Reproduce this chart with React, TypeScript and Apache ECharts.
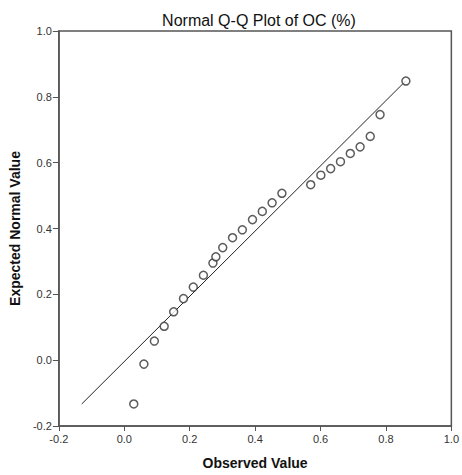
import React, { useEffect, useRef } from "react";
import * as echarts from "echarts";

const observed = [0.029, 0.06, 0.092, 0.122, 0.151, 0.181, 0.211, 0.242, 0.271, 0.28, 0.301, 0.331, 0.361, 0.392, 0.422, 0.452, 0.482, 0.57, 0.601, 0.631, 0.661, 0.691, 0.721, 0.752, 0.782, 0.861];
const expected = [-0.133, -0.012, 0.058, 0.103, 0.147, 0.187, 0.222, 0.258, 0.295, 0.314, 0.342, 0.372, 0.396, 0.427, 0.452, 0.478, 0.507, 0.533, 0.562, 0.582, 0.603, 0.628, 0.648, 0.68, 0.746, 0.848];
const refLineX = [-0.13, 0.86];
const refLineY = [-0.133, 0.848];

const FONT = "'Liberation Sans', Arial, sans-serif";

export default function App() {
  const ref = useRef<HTMLDivElement>(null);
  useEffect(() => {
    if (!ref.current) return;
    const chart = echarts.init(ref.current, null, { renderer: "svg" });
    chart.setOption({
      animation: false,
      backgroundColor: "#ffffff",
      title: {
        text: "Normal Q-Q Plot of OC (%)",
        left: 254,
        textAlign: "center",
        top: 7,
        textStyle: { fontFamily: FONT, fontSize: 16, fontWeight: "normal", color: "#111" },
      },
      grid: {
        left: 56,
        right: 9,
        top: 31,
        bottom: 47,
        show: true,
        borderColor: "#555",
        borderWidth: 1.5,
        backgroundColor: "#fff",
      },
      xAxis: {
        type: "value",
        min: -0.2,
        max: 1.0,
        interval: 0.2,
        name: "Observed Value",
        nameLocation: "middle",
        nameGap: 30,
        nameTextStyle: { fontFamily: FONT, fontSize: 14, fontWeight: "bold", color: "#111" },
        axisLine: { show: true, onZero: false, lineStyle: { color: "#555", width: 1.5 } },
        axisTick: { show: true, length: 5, lineStyle: { color: "#555" } },
        axisLabel: {
          fontFamily: FONT,
          fontSize: 11,
          color: "#333",
          margin: 7,
          showMaxLabel: true,
          formatter: (v: number) => v.toFixed(1),
        },
        splitLine: { show: false },
      },
      yAxis: {
        type: "value",
        min: -0.2,
        max: 1.0,
        interval: 0.2,
        name: "Expected Normal Value",
        nameLocation: "middle",
        nameGap: 34,
        nameTextStyle: { fontFamily: FONT, fontSize: 14, fontWeight: "bold", color: "#111" },
        axisLine: { show: true, onZero: false, lineStyle: { color: "#555", width: 1.5 } },
        axisTick: { show: true, length: 6, lineStyle: { color: "#555" } },
        axisLabel: {
          fontFamily: FONT,
          fontSize: 11,
          color: "#333",
          margin: 7,
          formatter: (v: number) => v.toFixed(1),
        },
        splitLine: { show: false },
      },
      series: [
        {
          type: "line",
          data: refLineX.map((x, i) => [x, refLineY[i]]),
          symbol: "none",
          lineStyle: { color: "#222", width: 1 },
          z: 1,
        },
        {
          type: "scatter",
          data: observed.map((x, i) => [x, expected[i]]),
          symbol: "circle",
          symbolSize: 8,
          itemStyle: { color: "#fff", borderColor: "#333", borderWidth: 1.5 },
          z: 2,
        },
      ],
    });
    return () => chart.dispose();
  }, []);
  return (
    <div
      ref={ref}
      style={{ position: "fixed", left: 0, top: 0, width: 462, height: 475 }}
    />
  );
}
